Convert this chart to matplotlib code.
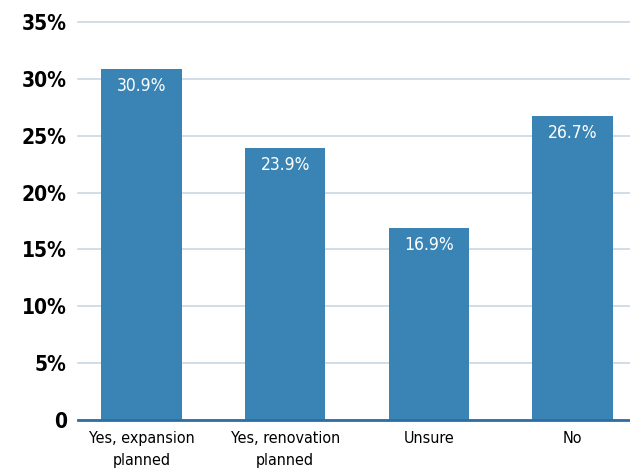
import matplotlib
matplotlib.use('Agg')
import matplotlib.pyplot as plt
import numpy as np

categories = ['Yes, expansion\nplanned', 'Yes, renovation\nplanned', 'Unsure', 'No']
values = [30.9, 23.9, 16.9, 26.7]
yticks = [0, 5, 10, 15, 20, 25, 30, 35]
ytick_labels = ['0', '5%', '10%', '15%', '20%', '25%', '30%', '35%']

plt.rcParams['font.family'] = ['DejaVu Sans']
plt.rcParams['font.stretch'] = 'condensed'

fig = plt.figure(figsize=(6.3, 4.73), dpi=100)
ax = fig.add_axes([78/630, 1-420/473, 1-78/630, (420-22)/473])

x = np.arange(len(categories))
bars = ax.bar(x, values, width=0.56, color='#3a84b5', zorder=3)
for xi, v in zip(x, values):
    ax.text(xi, v - 0.7, '%.1f%%' % v, ha='center', va='top', color='white',
            fontsize=12.5, fontstretch='condensed', zorder=4)

ax.set_xlim(-0.442, 3.40)
ax.set_ylim(0, 35)
ax.set_yticks(yticks)
ax.set_yticklabels(ytick_labels, fontsize=15, fontweight='bold', fontstretch='condensed')
ax.set_xticks(x)
ax.set_xticklabels(categories, fontsize=11.5, linespacing=1.55, fontstretch='condensed')
ax.tick_params(length=0)
ax.tick_params(axis='y', pad=8)
ax.tick_params(axis='x', pad=8)
ax.grid(axis='y', color='#c8d8e4', linewidth=1.2, zorder=0)
ax.yaxis.grid(True, clip_on=False)
for s in ['top', 'right', 'left']:
    ax.spines[s].set_visible(False)
ax.spines['bottom'].set_color('#2e6da4')
ax.spines['bottom'].set_linewidth(2)
ax.spines['bottom'].set_zorder(5)

plt.savefig('out.png', dpi=100)
